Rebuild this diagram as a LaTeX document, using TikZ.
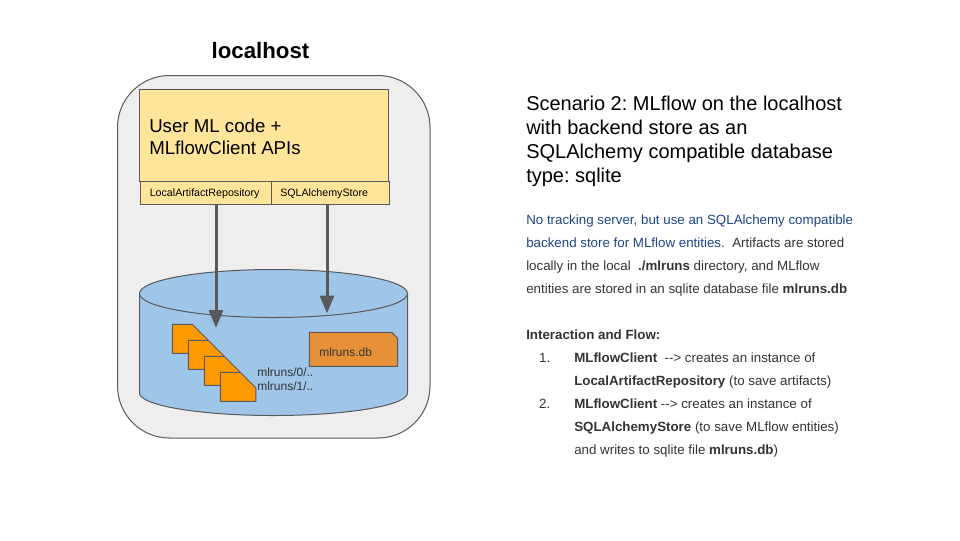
\documentclass[tikz,border=0pt]{standalone}
\usepackage{fontspec}
\setmainfont{Liberation Sans}
\usetikzlibrary{arrows.meta}
\frenchspacing
\definecolor{edge}{HTML}{595959}
\definecolor{hostfill}{HTML}{EEEEEE}
\definecolor{codefill}{HTML}{FFE599}
\definecolor{dbfill}{HTML}{9FC5E8}
\definecolor{filefill}{HTML}{FF9900}
\definecolor{sqlfill}{HTML}{E69138}
\definecolor{bodytext}{HTML}{333333}
\definecolor{bluetext}{HTML}{1C4587}
\tikzset{
  x=0.75pt,y=-0.75pt,
  shape line/.style={draw=edge,line width=0.75pt},
  codebox/.style={shape line,fill=codefill,rectangle,inner sep=0pt,outer sep=0pt,minimum height=17.25pt,anchor=north west,font=\fontsize{8}{10}\selectfont},
  filetab/.style={shape line,fill=filefill,line join=miter},
  flow/.style={draw=edge,line width=2.25pt,-{Triangle[length=13.5pt,width=10.5pt]}},
  plain/.style={inner sep=0pt,anchor=north west,align=left,text=black},
  textblock/.style={inner sep=0pt,anchor=north west,align=left,text=bodytext,font=\fontsize{10}{17.25}\selectfont},
}
\newcommand{\docshape}[2]{\draw[filetab] (#1,#2) -- ++(20,0) -- ++(15.5,15.5) -- ++(0,13.5) -- ++(-35.5,0) -- cycle;}
\newcommand{\flowarrow}{{-}{-}>}
\begin{document}
\begin{tikzpicture}
\useasboundingbox (0,0) rectangle (960,540);
\node[plain,anchor=base,font=\bfseries\fontsize{16.7}{19}\selectfont] (title) at (260.5,58) {localhost};
\draw[shape line,fill=hostfill,rounded corners=39pt] (117.5,75.5) rectangle (430,438);
\node[shape line,fill=codefill,rectangle,inner sep=0pt,outer sep=0pt,minimum width=187.2pt,minimum height=69pt,anchor=north west] (code) at (139.3,89.5) {};
\node[plain,anchor=west,font=\fontsize{14}{16.5}\selectfont] (codelabel) at (149,136.5) {User ML code +\\MLflowClient APIs};
\node[codebox,minimum width=98.25pt] (lar) at (140.5,181.5) {};
\node[plain,anchor=base west,font=\fontsize{8}{10}\selectfont] (larlabel) at (149.5,196.5) {LocalArtifactRepository};
\node[codebox,minimum width=88.25pt] (sql) at (271.5,181.5) {};
\node[plain,anchor=base west,font=\fontsize{8}{10}\selectfont] (sqllabel) at (280,196.5) {SQLAlchemyStore};
% database cylinder
\draw[shape line,fill=dbfill] (139.5,293.5) -- (139.5,393) arc[start angle=180,end angle=360,x radius=134,y radius=-22.5] -- (407.5,293.5);
\draw[shape line,fill=dbfill] (273.5,293.5) ellipse[x radius=134,y radius=24];
% artifact files
\docshape{172.3}{324.3}
\docshape{188.3}{340.3}
\docshape{204.3}{356.3}
\docshape{220.3}{372.3}
\node[plain,font=\fontsize{9}{10.6}\selectfont,text=bodytext] (runs) at (257,367.5) {mlruns/0/..\\mlruns/1/..};
\draw[shape line,fill=sqlfill] (309.3,332.3) -- (391.7,332.3) -- (397.7,338.3) -- (397.7,366.3) -- (309.3,366.3) -- cycle;
\node[plain,anchor=base west,font=\fontsize{9}{11}\selectfont,text=bodytext] (db) at (319,356) {mlruns.db};
% flows
\coordinate (tipa) at (216,328);
\coordinate (tipb) at (327,313.5);
\draw[flow] (lar.south -| tipa) -- (tipa);
\draw[flow] (sql.south -| tipb) -- (tipb);
% right panel
\node[plain,font=\fontsize{15}{18}\selectfont] (heading) at (526,95.5) {Scenario 2: MLflow on the localhost\\with backend store as an\\SQLAlchemy compatible database\\type: sqlite};
\node[textblock] (para) at (526,214.5) {\textcolor{bluetext}{No tracking server, but use an SQLAlchemy compatible}\\\textcolor{bluetext}{backend store for MLflow entities.}\ \ Artifacts are stored\\locally in the local\ \ \textbf{./mlruns} directory, and MLflow\\entities are stored in an sqlite database file \textbf{mlruns.db}};
\node[textblock] (flowtext) at (526,330) {\textbf{Interaction and Flow:}\\
\hspace*{36pt}\llap{1.\hspace{18pt}}\textbf{MLflowClient}\ \ \flowarrow{} creates an instance of\\
\hspace*{36pt}\textbf{LocalArtifactRepository} (to save artifacts)\\
\hspace*{36pt}\llap{2.\hspace{18pt}}\textbf{MLflowClient} \flowarrow{} creates an instance of\\
\hspace*{36pt}\textbf{SQLAlchemyStore} (to save MLflow entities)\\
\hspace*{36pt}and writes to sqlite file \textbf{mlruns.db})};
\end{tikzpicture}
\end{document}
